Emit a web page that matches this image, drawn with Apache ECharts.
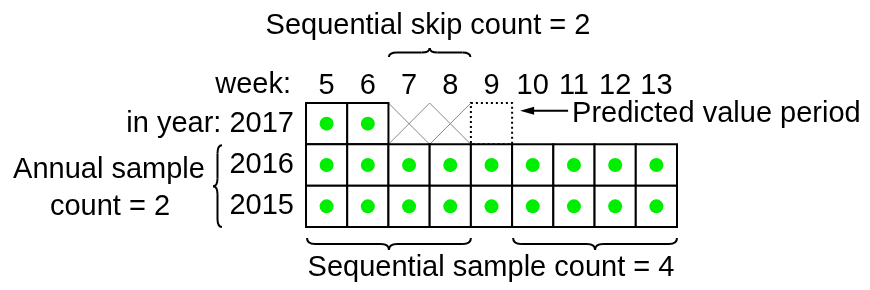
<!DOCTYPE html>
<html>
<head>
<meta charset="utf-8">
<script src="https://cdn.jsdelivr.net/npm/echarts@6/dist/echarts.min.js"></script>
<style>
  html, body { margin: 0; padding: 0; background: #fff; }
  #main { width: 870px; height: 290px; }
</style>
</head>
<body>
<div id="main"></div>
<script>
var weeks = ['5', '6', '7', '8', '9', '10', '11', '12', '13'];
var years = ['2015', '2016', '2017'];
var currentYear = '2017';
var pastYears = ['2016', '2015'];
var observedCurrent = ['5', '6'];
var skippedCurrent = ['7', '8'];
var predictedCurrent = ['9'];

var skipSpan = ['7', '8'];
var sampleSpans = [['5', '8'], ['10', '13']];
var annualSpan = ['2016', '2015'];

var FONT = 'Liberation Sans, Arial, sans-serif';
var DOT = '#00ee00';

// cells: [weekIndex, yearIndex, kind]
var cells = [];
skippedCurrent.forEach(function (w) { cells.push([weeks.indexOf(w), years.indexOf(currentYear), 'skip']); });
predictedCurrent.forEach(function (w) { cells.push([weeks.indexOf(w), years.indexOf(currentYear), 'pred']); });
observedCurrent.forEach(function (w) { cells.push([weeks.indexOf(w), years.indexOf(currentYear), 'obs']); });
pastYears.forEach(function (y) {
    weeks.forEach(function (w) { cells.push([weeks.indexOf(w), years.indexOf(y), 'obs']); });
});

var dots = cells.filter(function (c) { return c[2] === 'obs'; }).map(function (c) { return [c[0], c[1]]; });

function renderCell(params, api) {
    var c = api.coord([api.value(0), api.value(1)]);
    var s = api.size([1, 1]);
    var x = c[0] - s[0] / 2, y = c[1] - s[1] / 2;
    var kind = cells[params.dataIndex][2];
    if (kind === 'skip') {
        return {
            type: 'group',
            children: [
                { type: 'line', shape: { x1: x, y1: y, x2: x + s[0], y2: y + s[1] }, style: { stroke: '#888', lineWidth: 1 } },
                { type: 'line', shape: { x1: x, y1: y + s[1], x2: x + s[0], y2: y }, style: { stroke: '#888', lineWidth: 1 } }
            ]
        };
    }
    if (kind === 'pred') {
        return {
            type: 'rect',
            shape: { x: x, y: y, width: s[0], height: s[1] },
            style: { fill: 'none', stroke: '#000', lineWidth: 2, lineDash: [2, 3] }
        };
    }
    return {
        type: 'rect',
        shape: { x: x, y: y, width: s[0], height: s[1] },
        style: { fill: '#fff', stroke: '#000', lineWidth: 2 }
    };
}

var chart = echarts.init(document.getElementById('main'));
var option = {
    animation: false,
    grid: { left: 306, right: 193, top: 103, bottom: 63 },
    xAxis: {
        type: 'category',
        data: weeks,
        position: 'top',
        axisLine: { show: false },
        axisTick: { show: false },
        splitLine: { show: false },
        axisLabel: { interval: 0, margin: 3, fontSize: 29, fontFamily: FONT, color: '#000' }
    },
    yAxis: {
        type: 'category',
        data: years,
        axisLine: { show: false },
        axisTick: { show: false },
        splitLine: { show: false },
        axisLabel: {
            margin: 12, fontSize: 29, fontFamily: FONT, color: '#000',
            formatter: function (v) { return v === currentYear ? 'in year: ' + v : v; }
        }
    },
    series: [
        {
            type: 'custom',
            renderItem: renderCell,
            encode: { x: 0, y: 1 },
            data: cells.map(function (c) { return [c[0], c[1]]; }),
            z: 1
        },
        {
            type: 'scatter',
            data: dots,
            symbolSize: 14,
            itemStyle: { color: DOT, opacity: 1 },
            z: 3
        }
    ]
};
chart.setOption(option);

function px(w, y) {
    return chart.convertToPixel({ gridIndex: 0 }, [weeks.indexOf(w), years.indexOf(y)]);
}

var BRACE = { stroke: '#000', lineWidth: 2, fill: 'none' };
function curve(x1, y1, cx, cy, x2, y2) {
    return { type: 'bezierCurve', shape: { x1: x1, y1: y1, cpx1: cx, cpy1: cy, x2: x2, y2: y2 }, style: BRACE };
}
function seg(x1, y1, x2, y2) {
    return { type: 'line', shape: { x1: x1, y1: y1, x2: x2, y2: y2 }, style: BRACE };
}

// horizontal curly brace: ends at ye, tip at yt
function hBrace(x0, x1, ye, yt) {
    var ym = (ye + yt) / 2, mid = (x0 + x1) / 2, q = 8;
    return [
        curve(x0, ye, x0, ym, x0 + q, ym),
        seg(x0 + q, ym, mid - q, ym),
        curve(mid - q, ym, mid, ym, mid, yt),
        curve(mid, yt, mid, ym, mid + q, ym),
        seg(mid + q, ym, x1 - q, ym),
        curve(x1 - q, ym, x1, ym, x1, ye)
    ];
}

// vertical curly brace: ends at xe, tip at xt
function vBrace(y0, y1, xe, xt) {
    var xm = (xe + xt) / 2, mid = (y0 + y1) / 2, q = 8;
    return [
        curve(xe, y0, xm, y0, xm, y0 + q),
        seg(xm, y0 + q, xm, mid - q),
        curve(xm, mid - q, xm, mid, xt, mid),
        curve(xt, mid, xm, mid, xm, mid + q),
        seg(xm, mid + q, xm, y1 - q),
        curve(xm, y1 - q, xm, y1, xe, y1)
    ];
}

var p00 = px(weeks[0], years[0]), p11 = px(weeks[1], years[1]);
var cw = p11[0] - p00[0];
var ch = p00[1] - p11[1];
var gridTop = px('5', '2017')[1] - ch / 2;
var gridBottom = px('5', '2015')[1] + ch / 2;
var gridLeft = px('5', '2015')[0] - cw / 2;

var shapes = [];
var s0 = px(skipSpan[0], currentYear)[0] - cw / 2, s1 = px(skipSpan[1], currentYear)[0] + cw / 2;
shapes = shapes.concat(hBrace(s0 + 0.5, s1 - 0.5, gridTop - 46, gridTop - 55));
sampleSpans.forEach(function (sp) {
    var a = px(sp[0], '2015')[0] - cw / 2, b = px(sp[1], '2015')[0] + cw / 2;
    shapes = shapes.concat(hBrace(a + 1, b, gridBottom + 11, gridBottom + 23));
});
var a0 = px('5', annualSpan[0])[1] - ch / 2, a1 = px('5', annualSpan[1])[1] + ch / 2;
shapes = shapes.concat(vBrace(a0 + 1, a1, gridLeft - 84, gridLeft - 93));

var predCell = px(predictedCurrent[0], currentYear);
var arrowTip = predCell[0] + cw / 2 + 8;
var arrowY = predCell[1] - 13;

var textStyle = { fontSize: 29, fontFamily: FONT, fill: '#000', verticalAlign: 'middle' };
function txt(x, y, s, align) {
    return { type: 'text', x: x, y: y, style: Object.assign({ text: s, textAlign: align }, textStyle) };
}

chart.setOption({
    graphic: shapes.concat([
        txt(428, 26, 'Sequential skip count = 2', 'center'),
        txt(291, 85, 'week:', 'right'),
        txt(491, 268, 'Sequential sample count = 4', 'center'),
        txt(109, 170, 'Annual sample', 'center'),
        txt(110, 207, 'count = 2', 'center'),
        txt(arrowTip + 52, arrowY + 3, 'Predicted value period', 'left'),
        seg(arrowTip + 8, arrowY, arrowTip + 48, arrowY),
        { type: 'polygon', shape: { points: [[arrowTip, arrowY], [arrowTip + 14, arrowY - 4], [arrowTip + 14, arrowY + 4]] }, style: { fill: '#000' } }
    ])
});
</script>
</body>
</html>
